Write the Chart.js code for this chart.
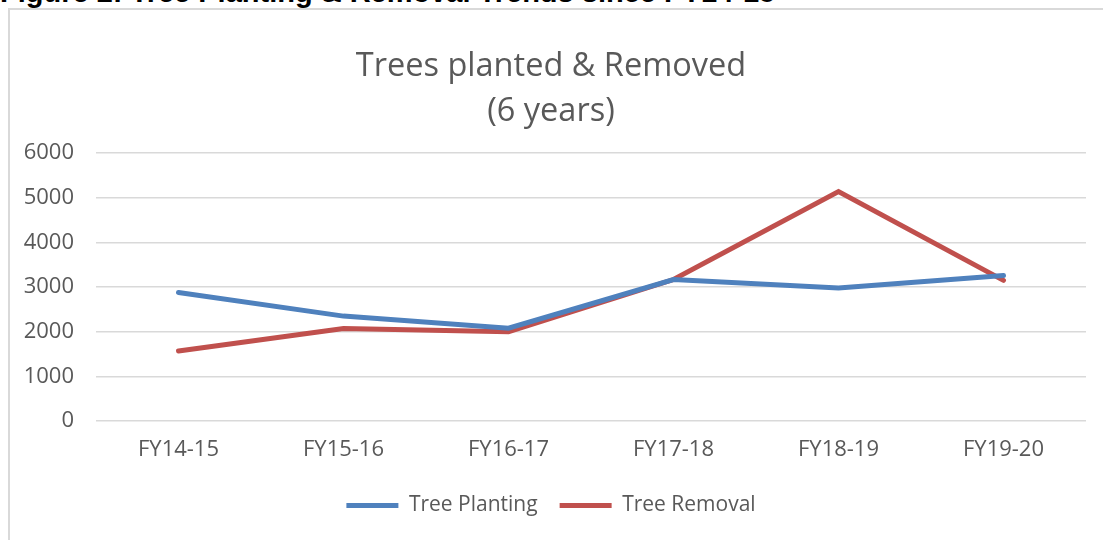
<!DOCTYPE html>
<html>
<head>
<meta charset="utf-8">
<script src="https://cdn.jsdelivr.net/npm/chart.js@4.4.1/dist/chart.umd.min.js"></script>
<style>
    body { margin: 0; background: #fff; width: 1103px; height: 540px; overflow: hidden; position: relative; }
    #caption {
        position: absolute; left: 0; top: -22px; white-space: nowrap;
        font: bold 29px "Liberation Sans", Arial, sans-serif; line-height: 29px; color: #000;
    }
    #frame {
        position: absolute; left: 8px; top: 8px; width: 1110px; height: 560px;
        border-left: 2px solid #d9d9d9; border-top: 2px solid #d9d9d9; box-sizing: border-box;
    }
    #wrap { position: absolute; left: 0; top: 0; width: 1103px; height: 540px; }
</style>
</head>
<body>
<div id="caption">Figure 2: Tree Planting &amp; Removal Trends since FY14-15</div>
<div id="frame"></div>
<div id="wrap"><canvas id="treeChart"></canvas></div>
<script>
const years = ['FY14-15', 'FY15-16', 'FY16-17', 'FY17-18', 'FY18-19', 'FY19-20'];
const treePlanting = [2880, 2350, 2080, 3170, 2980, 3260];
const treeRemoval = [1570, 2070, 2000, 3170, 5140, 3150];
const yTicks = [0, 1000, 2000, 3000, 4000, 5000, 6000];

const textColor = '#595959';
const fontName = '"Open Sans", "Noto Sans", sans-serif';

const ctx = document.getElementById('treeChart').getContext('2d');
new Chart(ctx, {
    type: 'line',
    data: {
        labels: years,
        datasets: [{
            label: 'Tree Planting',
            data: treePlanting,
            borderColor: '#4f81bd',
            backgroundColor: '#4f81bd',
            borderWidth: 5,
            borderCapStyle: 'round',
            pointRadius: 0,
            tension: 0
        }, {
            label: 'Tree Removal',
            data: treeRemoval,
            borderColor: '#c0504d',
            backgroundColor: '#c0504d',
            borderWidth: 5,
            borderCapStyle: 'round',
            pointRadius: 0,
            tension: 0
        }]
    },
    options: {
        responsive: true,
        maintainAspectRatio: false,
        animation: false,
        layout: { padding: { left: 16, right: 17, top: 0, bottom: 14 } },
        plugins: {
            title: {
                display: true,
                text: ['Trees planted & Removed', '(6 years)'],
                color: textColor,
                font: { family: fontName, size: 32.5, weight: 'normal', lineHeight: 1.38 },
                padding: { top: 44, bottom: 19.5 }
            },
            legend: {
                position: 'bottom',
                labels: {
                    color: textColor,
                    font: { family: fontName, size: 21 },
                    usePointStyle: true,
                    pointStyle: 'line',
                    pointStyleWidth: 52,
                    padding: 22
                }
            },
            tooltip: { enabled: false }
        },
        scales: {
            x: {
                offset: true,
                grid: { display: false, offset: true },
                border: { display: false },
                ticks: { color: textColor, font: { family: fontName, size: 22 }, padding: 8, maxRotation: 0 },
                afterFit: (scale) => { scale.height = 52; }
            },
            y: {
                min: 0,
                max: 6000,
                afterBuildTicks: (scale) => { scale.ticks = yTicks.map(v => ({ value: v })); },
                grid: { color: '#d9d9d9', lineWidth: 1.5, drawTicks: false },
                border: { display: false },
                ticks: {
                    color: textColor,
                    font: { family: fontName, size: 22 },
                    padding: 22,
                    callback: (value) => String(value)
                },
                afterFit: (scale) => { scale.width = 80; }
            }
        }
    }
});
</script>
</body>
</html>
